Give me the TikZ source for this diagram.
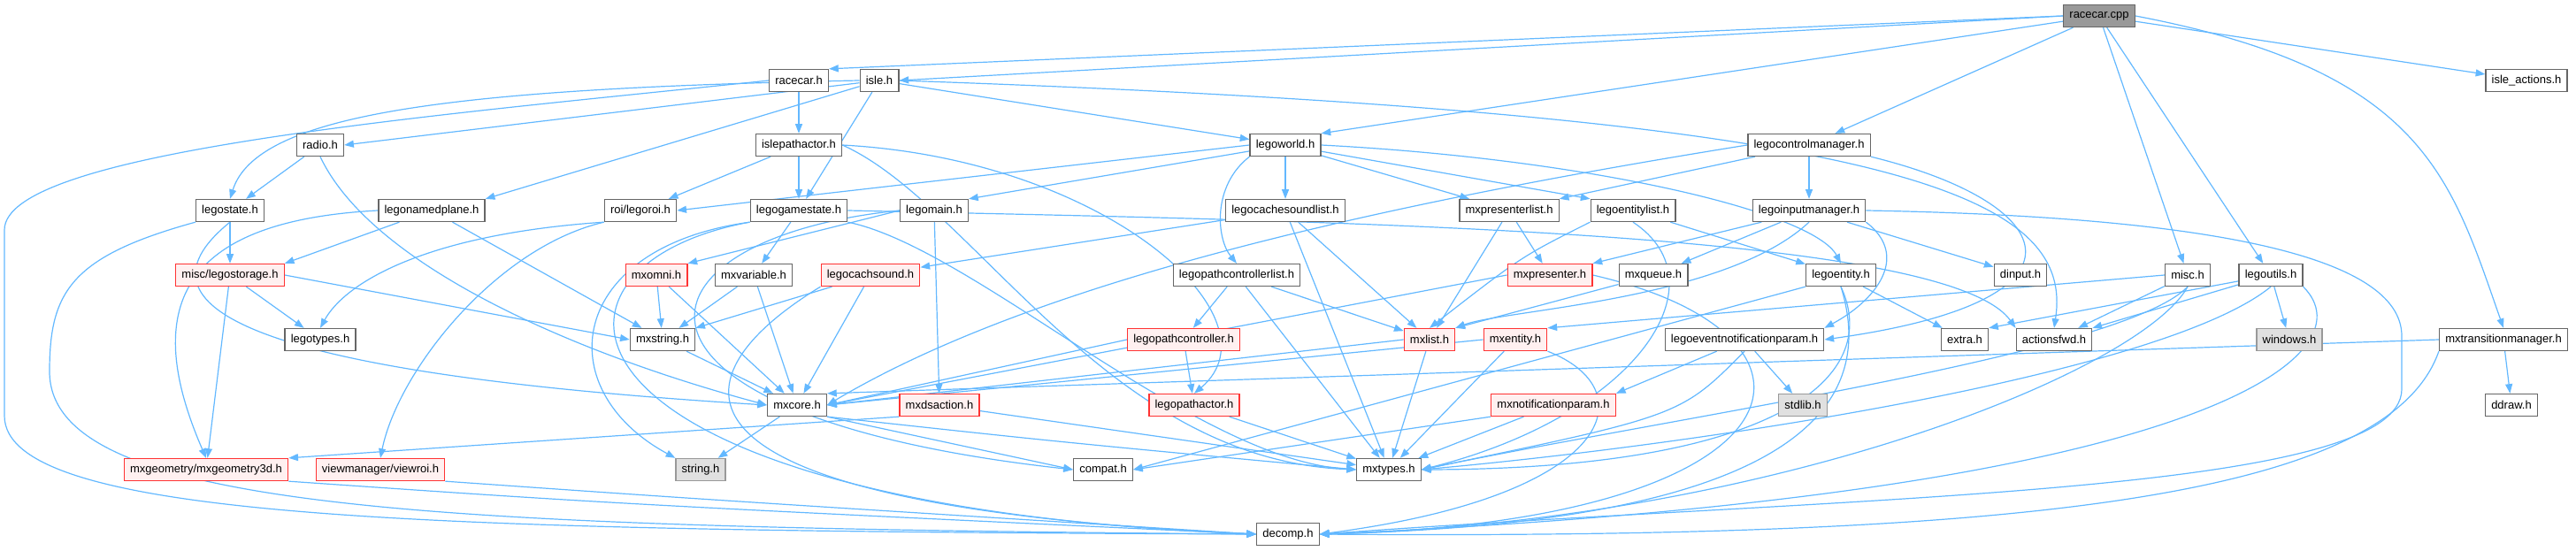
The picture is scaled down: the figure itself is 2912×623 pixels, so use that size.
\documentclass[tikz,border=0pt]{standalone}
\usepackage{fontspec}
\setmainfont{Liberation Sans}
\usepackage{xcolor}
\usetikzlibrary{arrows.meta, positioning, calc}
\definecolor{edgeblue}{HTML}{63B8FF}
\definecolor{nodegray}{HTML}{666666}
\definecolor{redfill}{HTML}{FFF0F0}
\definecolor{redline}{HTML}{FF3333}
\definecolor{sysfill}{HTML}{E0E0E0}
\definecolor{sysline}{HTML}{999999}
\definecolor{rootfill}{HTML}{999999}
\pgfdeclarelayer{background}
\pgfsetlayers{background,main}

\begin{document}
\begin{tikzpicture}[
		x=0.75pt, y=0.75pt,
		hdr/.style={rectangle, draw=nodegray, fill=white, line width=1pt, minimum height=18.75pt, inner xsep=5pt, inner ysep=0pt, font=\fontsize{9.75}{11}\selectfont},
		hdrred/.style={hdr, draw=redline, fill=redfill},
		hdrsys/.style={hdr, draw=sysline, fill=sysfill},
		root/.style={hdr, draw=nodegray, fill=rootfill},
		>={Triangle[length=8pt, width=6pt]},
		% Style for the include arrows
		edge/.style={draw=edgeblue, line width=0.9pt, ->}
		]
		\useasboundingbox (0,0) rectangle (2912,-623);
		
		% --- Row 0 and 1 ---
		\node[root] (rcpp) at (2373,-18) {racecar.cpp};
		\node[hdr] (racecarh) at (903,-91) {racecar.h};
		\node[hdr] (isleh) at (994,-91) {isle.h};
		\node[hdr] (isleactions) at (2856,-91) {isle\_actions.h};
		
		% --- Row 2 ---
		\node[hdr] (radio) at (362,-164) {radio.h};
		\node[hdr] (islepathactor) at (903,-164) {islepathactor.h};
		\node[hdr] (legoworld) at (1453,-164) {legoworld.h};
		\node[hdr] (lcm) at (2045,-164) {legocontrolmanager.h};
		
		% --- Row 3 ---
		\node[hdr] (legostate) at (260,-238) {legostate.h};
		\node[hdr] (namedplane) at (488,-238) {legonamedplane.h};
		\node[hdr] (legoroi) at (724,-238) {roi/legoroi.h};
		\node[hdr] (gamestate) at (903,-238) {legogamestate.h};
		\node[hdr] (legomain) at (1056,-238) {legomain.h};
		\node[hdr] (cachesoundlist) at (1453,-238) {legocachesoundlist.h};
		\node[hdr] (presenterlist) at (1706,-238) {mxpresenterlist.h};
		\node[hdr] (entitylist) at (1846,-238) {legoentitylist.h};
		\node[hdr] (inputmanager) at (2045,-238) {legoinputmanager.h};
		
		% --- Row 4 ---
		\node[hdrred] (legostorage) at (260,-311) {misc/legostorage.h};
		\node[hdrred] (mxomni) at (742,-311) {mxomni.h};
		\node[hdr] (mxvariable) at (852,-311) {mxvariable.h};
		\node[hdrred] (cachsound) at (984,-311) {legocachsound.h};
		\node[hdr] (pathctrllist) at (1398,-311) {legopathcontrollerlist.h};
		\node[hdrred] (mxpresenter) at (1752,-311) {mxpresenter.h};
		\node[hdr] (mxqueue) at (1869,-311) {mxqueue.h};
		\node[hdr] (legoentity) at (2081,-311) {legoentity.h};
		\node[hdr] (dinput) at (2284,-311) {dinput.h};
		\node[hdr] (misc) at (2473,-311) {misc.h};
		\node[hdr] (legoutils) at (2567,-311) {legoutils.h};
		
		% --- Row 5 ---
		\node[hdr] (legotypes) at (362,-384) {legotypes.h};
		\node[hdr] (mxstring) at (749,-384) {mxstring.h};
		\node[hdrred] (pathctrl) at (1338,-384) {legopathcontroller.h};
		\node[hdrred] (mxlist) at (1616,-384) {mxlist.h};
		\node[hdrred] (mxentity) at (1713,-384) {mxentity.h};
		\node[hdr] (eventnotif) at (1972,-384) {legoeventnotificationparam.h};
		\node[hdr] (extra) at (2221,-384) {extra.h};
		\node[hdr] (actionsfwd) at (2322,-384) {actionsfwd.h};
		\node[hdrsys] (windows) at (2588,-384) {windows.h};
		\node[hdr] (transmgr) at (2830,-384) {mxtransitionmanager.h};
		
		% --- Row 6 ---
		\node[hdr] (mxcore) at (901,-458) {mxcore.h};
		\node[hdrred] (mxdsaction) at (1062,-458) {mxdsaction.h};
		\node[hdrred] (pathactor) at (1350,-458) {legopathactor.h};
		\node[hdrred] (notifparam) at (1756,-458) {mxnotificationparam.h};
		\node[hdrsys] (stdlib) at (2038,-458) {stdlib.h};
		\node[hdr] (ddraw) at (2839,-458) {ddraw.h};
		
		% --- Row 7 and 8 ---
		\node[hdrred] (geom3d) at (233,-531) {mxgeometry/mxgeometry3d.h};
		\node[hdrred] (viewroi) at (430,-531) {viewmanager/viewroi.h};
		\node[hdrsys] (stringh) at (792,-531) {string.h};
		\node[hdr] (compat) at (1247,-531) {compat.h};
		\node[hdr] (mxtypes) at (1570,-531) {mxtypes.h};
		\node[hdr] (decomp) at (1456,-604) {decomp.h};
		
		\begin{pgfonlayer}{background}
		% --- racecar.cpp ---
		\draw[edge] (rcpp.west) -- (racecarh.north east);
		\draw[edge] (rcpp.west) -- (isleh.east);
		\draw[edge] (rcpp) -- (legoworld.north east);
		\draw[edge] (rcpp) -- (lcm);
		\draw[edge] (rcpp) -- (misc);
		\draw[edge] (rcpp) -- (legoutils);
		\draw[edge] (rcpp) -- (isleactions);
		\draw[edge] (rcpp.east) .. controls (2740,-80) and (2770,-200) .. (transmgr.north);
		
		% --- racecar.h and isle.h ---
		\draw[edge] (racecarh) -- (islepathactor);
		\draw[edge] (racecarh.west) .. controls (500,-130) and (5,-170) .. (5,-260) -- (5,-470) .. controls (5,-590) and (500,-600) .. (decomp.west);
		\draw[edge] (isleh) -- (radio.east);
		\draw[edge] (isleh) -- (namedplane.north east);
		\draw[edge] (isleh.west) .. controls (500,-100) and (290,-130) .. (legostate.north);
		\draw[edge] (isleh) -- (gamestate);
		\draw[edge] (isleh) -- (legoworld);
		\draw[edge] (isleh.east) .. controls (2150,-130) and (2345,-220) .. (actionsfwd.north);
		
		% --- radio.h, islepathactor.h ---
		\draw[edge] (radio) -- (legostate);
		\draw[edge] (radio.south) .. controls (420,-300) and (650,-400) .. (mxcore.west);
		\draw[edge] (islepathactor) -- (legoroi);
		\draw[edge] (islepathactor) -- (gamestate);
		\draw[edge] (islepathactor.east) .. controls (1250,-180) and (1450,-360) .. (pathactor.north);
		\draw[edge] (islepathactor.east) .. controls (1100,-230) and (1250,-520) .. (mxtypes.west);
		
		% --- legoworld.h ---
		\draw[edge] (legoworld.west) -- (legoroi.east);
		\draw[edge] (legoworld) -- (legomain.north east);
		\draw[edge] (legoworld.south west) .. controls (1370,-210) and (1375,-270) .. (pathctrllist.north);
		\draw[edge] (legoworld) -- (cachesoundlist);
		\draw[edge] (legoworld) -- (presenterlist);
		\draw[edge] (legoworld) -- (entitylist.north west);
		\draw[edge] (legoworld.east) .. controls (1800,-180) and (2050,-240) .. (legoentity.north);
		
		% --- legocontrolmanager.h ---
		\draw[edge] (lcm) -- (inputmanager);
		\draw[edge] (lcm) -- (presenterlist.north east);
		\draw[edge] (lcm.west) .. controls (1500,-240) and (1150,-330) .. (mxcore.east);
		\draw[edge] (lcm.south east) .. controls (2330,-230) and (2380,-340) .. (eventnotif.east);
		
		% --- row 3 sources ---
		\draw[edge] (legostate) -- (legostorage);
		\draw[edge] (legostate.south) .. controls (150,-340) and (250,-420) .. (mxcore.west);
		\draw[edge] (legostate.south west) .. controls (80,-290) and (56,-330) .. (56,-420) .. controls (56,-580) and (500,-596) .. (decomp.west);
		\draw[edge] (namedplane) -- (legostorage.north east);
		\draw[edge] (namedplane) -- (mxstring);
		\draw[edge] (namedplane.west) .. controls (200,-250) and (160,-350) .. (geom3d.north);
		\draw[edge] (legoroi.south west) .. controls (480,-265) and (390,-320) .. (legotypes.north);
		\draw[edge] (legoroi.south west) .. controls (560,-280) and (450,-420) .. (viewroi.north);
		\draw[edge] (gamestate) -- (mxvariable);
		\draw[edge] (gamestate.south west) .. controls (640,-280) and (620,-440) .. (stringh.north west);
		\draw[edge] (gamestate.south west) .. controls (580,-300) and (600,-570) .. (decomp.west);
		\draw[edge] (gamestate.east) .. controls (1500,-250) and (2200,-260) .. (actionsfwd.north west);
		\draw[edge] (gamestate.south east) .. controls (1100,-280) and (1350,-520) .. (mxtypes.west);
		\draw[edge] (legomain.west) -- (mxomni.north east);
		\draw[edge] (legomain) -- (mxdsaction);
		\draw[edge] (legomain.west) .. controls (700,-270) and (660,-470) .. (compat.west);
		\draw[edge] (cachesoundlist) -- (cachsound);
		\draw[edge] (cachesoundlist) -- (mxlist);
		\draw[edge] (cachesoundlist) -- (mxtypes);
		\draw[edge] (presenterlist) -- (mxlist);
		\draw[edge] (presenterlist) -- (mxpresenter);
		\draw[edge] (entitylist.south west) .. controls (1720,-290) .. (mxlist.north);
		\draw[edge] (entitylist) -- (legoentity);
		\draw[edge] (entitylist.south) .. controls (1950,-320) and (1850,-470) .. (mxtypes.east);
		\draw[edge] (inputmanager) -- (mxpresenter.north east);
		\draw[edge] (inputmanager) -- (mxqueue);
		\draw[edge] (inputmanager.south) .. controls (1950,-340) and (1700,-350) .. (mxlist.north east);
		\draw[edge] (inputmanager.south east) .. controls (2160,-290) and (2120,-340) .. (eventnotif.north east);
		\draw[edge] (inputmanager) -- (dinput);
		\draw[edge] (inputmanager.east) .. controls (2500,-245) and (2715,-290) .. (2715,-380) -- (2715,-440) .. controls (2715,-560) and (2100,-560) .. (decomp.east);
		
		% --- row 4 sources ---
		\draw[edge] (legostorage) -- (legotypes);
		\draw[edge] (legostorage.east) -- (mxstring.west);
		\draw[edge] (legostorage) -- (geom3d);
		\draw[edge] (mxomni) -- (mxstring);
		\draw[edge] (mxomni) -- (mxcore);
		\draw[edge] (mxvariable) -- (mxstring);
		\draw[edge] (mxvariable) -- (mxcore);
		\draw[edge] (cachsound) -- (mxstring.north east);
		\draw[edge] (cachsound) -- (mxcore);
		\draw[edge] (cachsound.south west) .. controls (770,-420) and (700,-570) .. (decomp.west);
		\draw[edge] (pathctrllist) -- (pathctrl);
		\draw[edge] (pathctrllist) -- (mxlist);
		\draw[edge] (pathctrllist) -- (mxtypes);
		\draw[edge] (mxpresenter.west) -- (mxcore.east);
		\draw[edge] (mxpresenter.east) .. controls (2100,-380) and (2050,-590) .. (decomp.east);
		\draw[edge] (mxqueue) -- (mxlist.north east);
		\draw[edge] (legoentity) -- (extra);
		\draw[edge] (legoentity.south west) -- (compat.east);
		\draw[edge] (legoentity.south) .. controls (2130,-430) and (2000,-530) .. (mxtypes.east);
		\draw[edge] (legoentity.south) .. controls (2120,-450) and (2050,-590) .. (decomp.east);
		\draw[edge] (misc) -- (actionsfwd);
		\draw[edge] (misc.west) -- (mxentity.north east);
		\draw[edge] (misc.south) .. controls (2400,-400) and (1900,-470) .. (mxtypes.east);
		\draw[edge] (misc.south) .. controls (2420,-420) and (2000,-590) .. (decomp.east);
		\draw[edge] (legoutils) -- (extra.north east);
		\draw[edge] (legoutils) -- (actionsfwd.north east);
		\draw[edge] (legoutils) -- (windows);
		\draw[edge] (legoutils.south) .. controls (2450,-420) and (1950,-500) .. (mxtypes.east);
		\draw[edge] (legoutils.south east) .. controls (2680,-400) and (2500,-560) .. (decomp.east);
		
		% --- row 5 sources ---
		\draw[edge] (pathctrl) -- (pathactor);
		\draw[edge] (pathctrl.west) -- (mxcore.east);
		\draw[edge] (mxlist.west) -- (mxcore.east);
		\draw[edge] (mxlist) -- (mxtypes);
		\draw[edge] (mxentity.west) -- (mxcore.east);
		\draw[edge] (mxentity) -- (mxtypes);
		\draw[edge] (mxentity.south east) .. controls (1860,-440) and (1830,-560) .. (decomp.east);
		\draw[edge] (eventnotif) -- (notifparam.north east);
		\draw[edge] (eventnotif) -- (stdlib);
		\draw[edge] (eventnotif.south) .. controls (1900,-470) .. (mxtypes.east);
		\draw[edge] (transmgr.west) -- (mxcore.north east);
		\draw[edge] (transmgr) -- (ddraw);
		\draw[edge] (transmgr.south west) .. controls (2700,-560) and (2300,-610) .. (decomp.east);
		\draw[edge] (mxstring) -- (mxcore);
		
		% --- row 6 and 7 sources ---
		\draw[edge] (mxcore) -- (stringh);
		\draw[edge] (mxcore.south east) -- (compat.west);
		\draw[edge] (mxcore.south east) .. controls (1200,-500) .. (mxtypes.west);
		\draw[edge] (mxdsaction.south west) -- (geom3d.north east);
		\draw[edge] (mxdsaction) -- (mxtypes);
		\draw[edge] (pathactor) -- (mxtypes);
		\draw[edge] (notifparam.south west) -- (compat.east);
		\draw[edge] (notifparam) -- (mxtypes);
		\draw[edge] (geom3d.south east) .. controls (700,-570) .. (decomp.west);
		\draw[edge] (viewroi.south east) .. controls (800,-565) .. (decomp.west);
		\end{pgfonlayer}
		
	\end{tikzpicture}
\end{document}
